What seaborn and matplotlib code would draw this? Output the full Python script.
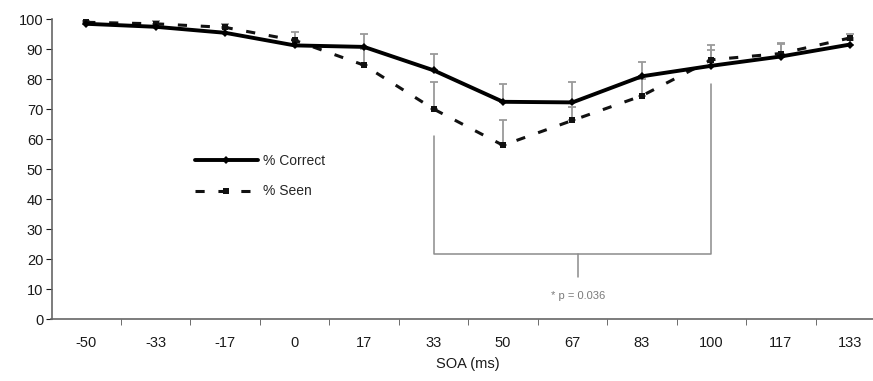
import numpy as np
import pandas as pd
import matplotlib.pyplot as plt
import seaborn as sns

# SOA categories and the two series (percent)
soa_labels = ['-50', '-33', '-17', '0', '17', '33', '50', '67', '83', '100', '117', '133']
pct_correct = [98.5, 97.5, 95.5, 91.3, 90.8, 83.0, 72.5, 72.3, 81.0, 84.5, 87.6, 91.6]
pct_seen = [99.0, 98.5, 97.3, 93.0, 84.7, 70.1, 58.0, 66.3, 74.5, 86.5, 88.6, 93.8]
# upper error bars
err_correct = [0.8, 1.0, 1.5, 1.8, 4.4, 5.6, 6.1, 6.9, 4.8, 5.2, 4.3, 1.5]
err_seen = [0.6, 0.8, 1.2, 2.8, 5.5, 9.1, 8.4, 4.5, 5.5, 4.9, 3.5, 1.3]

sns.set_style('ticks')
plt.rcParams['font.family'] = ['Liberation Sans', 'DejaVu Sans']

df = pd.DataFrame({
    'idx': list(range(len(soa_labels))) * 2,
    'value': pct_correct + pct_seen,
    'series': ['% Correct'] * len(soa_labels) + ['% Seen'] * len(soa_labels),
})

fig = plt.figure(figsize=(8.73, 3.81), dpi=100)
ax = fig.add_axes([51.5 / 873, 61.7 / 381, 833.5 / 873, 300 / 381])

idx = np.arange(len(soa_labels))
grey = '#9a9a9a'
ax.errorbar(idx, pct_seen, yerr=[np.zeros(len(idx)), err_seen], fmt='none',
            ecolor=grey, elinewidth=1.3, capsize=3, capthick=1.3, zorder=1)
ax.errorbar(idx, pct_correct, yerr=[np.zeros(len(idx)), err_correct], fmt='none',
            ecolor=grey, elinewidth=1.3, capsize=3, capthick=1.3, zorder=1)

sns.lineplot(data=df[df.series == '% Seen'], x='idx', y='value', ax=ax,
             color='#111111', linewidth=2.2, marker='s', markersize=4.5,
             markeredgewidth=0, label='% Seen', zorder=2)
ax.lines[-1].set_dashes([3, 4.5])
sns.lineplot(data=df[df.series == '% Correct'], x='idx', y='value', ax=ax,
             color='#000000', linewidth=2.8, marker='D', markersize=4,
             markeredgewidth=0, label='% Correct', zorder=3)

# significance bracket
bc = '#8c8c8c'
ax.plot([5, 5, 9, 9], [61, 21.9, 21.9, 78.5], color=bc, linewidth=1.1, zorder=0)
ax.plot([7.08, 7.08], [21.9, 14], color=bc, linewidth=1.1, zorder=0)
ax.text(7.08, 7.8, '* p = 0.036', color='#7a7a7a', fontsize=8, ha='center', va='center')

ax.set_xlim(-0.5, 11.5)
ax.set_ylim(0, 100)
ax.set_yticks(range(0, 101, 10))
ax.set_xticks(idx)
ax.set_xticklabels(soa_labels)
ax.set_xticks(np.arange(0.5, 11.5, 1), minor=True)
ax.tick_params(axis='x', which='major', length=0, pad=12, labelsize=10.5, colors='#1a1a1a')
ax.tick_params(axis='x', which='minor', length=4, color='#555555')
ax.tick_params(axis='y', length=4, pad=2, labelsize=10.5, colors='#1a1a1a')
ax.set_xlabel('SOA (ms)', fontsize=10.5, color='#1a1a1a', labelpad=5)
ax.set_ylabel('')
sns.despine(ax=ax)
for s in ['left', 'bottom']:
    ax.spines[s].set_color('#666666')
    ax.spines[s].set_linewidth(1.2)

handles, labels = ax.get_legend_handles_labels()
order = [labels.index('% Correct'), labels.index('% Seen')]
ax.legend([handles[i] for i in order], [labels[i] for i in order],
          loc='upper left', bbox_to_anchor=(0.164, 0.575), frameon=False,
          handlelength=4.5, handletextpad=0.4, labelspacing=1.2, borderpad=0,
          fontsize=10)

fig.savefig('out.png', dpi=100)
